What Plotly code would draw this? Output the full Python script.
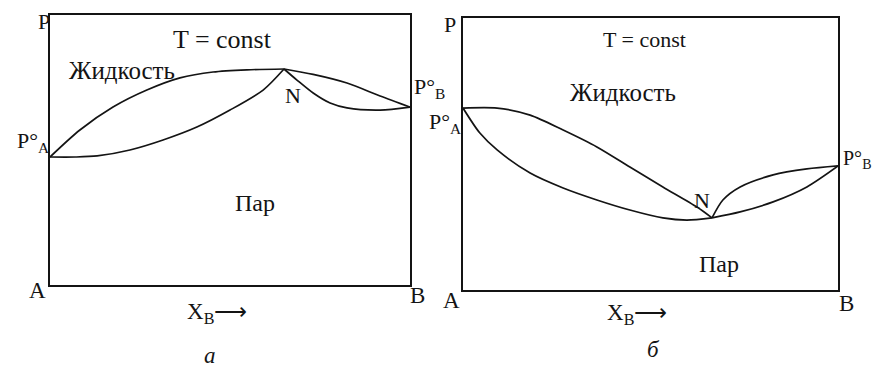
import plotly.graph_objects as go

# Panel (a): positive deviation, azeotrope N at a pressure maximum
# x = mole fraction of B, P = relative pressure (0..1 of panel height)
a_liq_x = [0.0, 0.083, 0.175, 0.269, 0.361, 0.453, 0.547, 0.65]
a_liq_p = [0.474, 0.574, 0.659, 0.722, 0.767, 0.789, 0.797, 0.80]
a_vap_x = [0.0, 0.07, 0.131, 0.222, 0.314, 0.408, 0.50, 0.592, 0.65]
a_vap_p = [0.474, 0.474, 0.478, 0.50, 0.537, 0.585, 0.648, 0.722, 0.80]
a_liq2_x = [0.65, 0.731, 0.825, 0.917, 1.0]
a_liq2_p = [0.80, 0.780, 0.748, 0.700, 0.659]
a_vap2_x = [0.65, 0.686, 0.731, 0.778, 0.825, 0.917, 1.0]
a_vap2_p = [0.80, 0.759, 0.711, 0.674, 0.656, 0.648, 0.659]

# Panel (б): negative deviation, azeotrope N at a pressure minimum
b_liq_x = [0.0, 0.091, 0.179, 0.267, 0.357, 0.445, 0.533, 0.624, 0.664]
b_liq_p = [0.669, 0.669, 0.643, 0.588, 0.526, 0.452, 0.379, 0.305, 0.265]
b_vap_x = [0.0, 0.045, 0.091, 0.179, 0.267, 0.357, 0.445, 0.533, 0.597, 0.664]
b_vap_p = [0.669, 0.577, 0.515, 0.43, 0.375, 0.331, 0.294, 0.265, 0.257, 0.265]
b_liq2_x = [0.664, 0.693, 0.739, 0.827, 0.917, 1.0]
b_liq2_p = [0.265, 0.331, 0.379, 0.423, 0.445, 0.456]
b_vap2_x = [0.664, 0.739, 0.827, 0.917, 1.0]
b_vap2_p = [0.265, 0.287, 0.324, 0.379, 0.456]

W, H = 873, 370
INK = "#141414"
FONT = "Liberation Serif"

fig = go.Figure()

def curve(xs, ys, ax):
    fig.add_trace(go.Scatter(
        x=xs, y=ys, mode="lines", xaxis="x" + ax, yaxis="y" + ax,
        line=dict(color=INK, width=1.7, shape="spline", smoothing=0.8),
        hoverinfo="skip", showlegend=False, cliponaxis=False))

for xs, ys in [(a_liq_x, a_liq_p), (a_vap_x, a_vap_p),
               (a_liq2_x, a_liq2_p), (a_vap2_x, a_vap2_p)]:
    curve(xs, ys, "")
for xs, ys in [(b_liq_x, b_liq_p), (b_vap_x, b_vap_p),
               (b_liq2_x, b_liq2_p), (b_vap2_x, b_vap2_p)]:
    curve(xs, ys, "2")

axis_style = dict(range=[0, 1], showgrid=False, zeroline=False,
                  showticklabels=False, ticks="", showline=True,
                  mirror=True, linecolor=INK, linewidth=1.7, fixedrange=True)

fig.update_layout(
    width=W, height=H, margin=dict(l=0, r=0, t=0, b=0),
    paper_bgcolor="white", plot_bgcolor="white",
    font=dict(family=FONT, color=INK),
    xaxis=dict(domain=[50 / W, 410 / W], anchor="y", **axis_style),
    yaxis=dict(domain=[1 - 285 / H, 1 - 15 / H], anchor="x", **axis_style),
    xaxis2=dict(domain=[463 / W, 838 / W], anchor="y2", **axis_style),
    yaxis2=dict(domain=[1 - 290 / H, 1 - 18 / H], anchor="x2", **axis_style),
    showlegend=False,
)

def label(text, px, py, size=21, xanchor="center", yanchor="middle",
          italic=False):
    """Place a text label at a pixel position of the page (from top-left)."""
    fig.add_annotation(
        text=("<i>%s</i>" % text) if italic else text,
        x=px / W, y=1 - py / H, xref="paper", yref="paper",
        xanchor=xanchor, yanchor=yanchor, showarrow=False,
        font=dict(family=FONT, size=size, color=INK))

# labels of panel (a)
label("P", 43.5, 21.5, size=22)
label("T = const", 223, 39, size=26)
label("Жидкость", 122, 70, size=25)
label("N", 293, 95, size=22)
label("P°<sub>A</sub>", 15, 142, size=22, xanchor="left")
label("P°<sub>B</sub>", 412, 88, size=22, xanchor="left")
label("Пар", 255, 203, size=24)
label("A", 37.5, 290, size=23)
label("B", 417.5, 295, size=23)
label("X<sub>B</sub>⟶", 217, 313, size=23)
label("а", 210, 370, size=23, yanchor="bottom", italic=True)

# labels of panel (б)
label("P", 450, 25, size=22)
label("T = const", 644, 39, size=22)
label("Жидкость", 623, 92, size=25)
label("P°<sub>A</sub>", 427, 123, size=22, xanchor="left")
label("P°<sub>B</sub>", 841, 159.5, size=20, xanchor="left")
label("N", 702, 200, size=22)
label("Пар", 719, 264, size=24)
label("A", 451, 300, size=23)
label("B", 846, 303, size=23)
label("X<sub>B</sub>⟶", 637, 314, size=23)
label("б", 653, 349, size=23, italic=True)

fig.write_html("out.html")
